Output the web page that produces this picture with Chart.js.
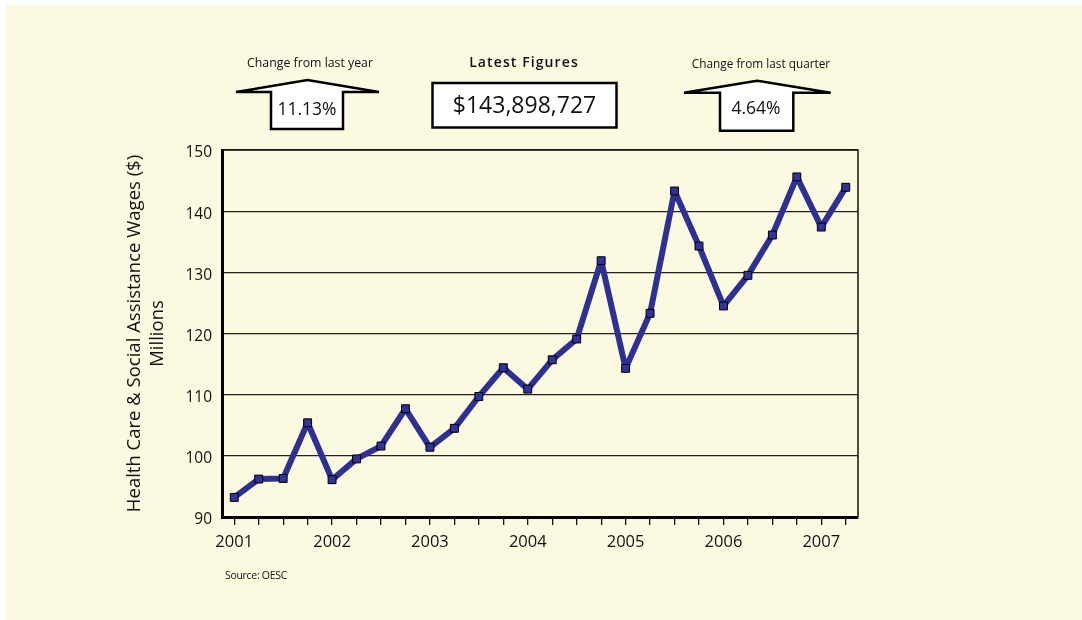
<!DOCTYPE html>
<html>
<head>
<meta charset="utf-8">
<title>Health Care & Social Assistance Wages</title>
<script src="https://cdn.jsdelivr.net/npm/chart.js@4/dist/chart.umd.min.js"></script>
<style>
  html, body { margin: 0; padding: 0; background: #ffffff; }
  #page { position: relative; width: 1082px; height: 620px; overflow: hidden; font-family: "Open Sans", sans-serif; }
  #panel { position: absolute; left: 6px; top: 5px; right: 0; bottom: 0; background: #fcf9e1; }
  #chartBox { position: absolute; left: 0; top: 0; width: 1082px; height: 620px; }
  #header { position: absolute; left: 0; top: 0; }
</style>
</head>
<body>
<div id="page">
  <div id="panel"></div>
  <div id="chartBox"><canvas id="wagesChart" width="1082" height="620"></canvas></div>
  <svg id="header" width="1082" height="620" xmlns="http://www.w3.org/2000/svg">
    <g fill="#ffffff" stroke="#000000" stroke-width="2.5" stroke-linejoin="miter">
      <polygon points="236,92 307.5,80 379,92 343,92 343,129 271,129 271,92"/>
      <rect x="432.5" y="83" width="184" height="44.5"/>
      <polygon points="684,92.7 757,80.7 830.7,92.7 793.3,92.7 793.3,130.7 720,130.7 720,92.7"/>
    </g>
    <g font-family="Open Sans, sans-serif" fill="#111111" text-anchor="middle">
      <text x="310" y="66.5" font-size="12.3">Change from last year</text>
      <text x="524" y="66.5" font-size="14" font-weight="600" letter-spacing="1.1">Latest Figures</text>
      <text x="761" y="67.5" font-size="11.8">Change from last quarter</text>
      <text x="307" y="115" font-size="17.5">11.13%</text>
      <text x="524.5" y="112.5" font-size="23">$143,898,727</text>
      <text x="756" y="114" font-size="17.5">4.64%</text>
      <text x="225" y="578.5" font-size="10.5" text-anchor="start" letter-spacing="-0.3">Source: OESC</text>
    </g>
  </svg>
</div>
<script>
// quarterly wages, millions of dollars, 2001 Q1 .. 2007 Q2
const quarters = [
  '2001 Q1', '2001 Q2', '2001 Q3', '2001 Q4',
  '2002 Q1', '2002 Q2', '2002 Q3', '2002 Q4',
  '2003 Q1', '2003 Q2', '2003 Q3', '2003 Q4',
  '2004 Q1', '2004 Q2', '2004 Q3', '2004 Q4',
  '2005 Q1', '2005 Q2', '2005 Q3', '2005 Q4',
  '2006 Q1', '2006 Q2', '2006 Q3', '2006 Q4',
  '2007 Q1', '2007 Q2'
];
const tickLabels = [
  '2001', '', '', '',
  '2002', '', '', '',
  '2003', '', '', '',
  '2004', '', '', '',
  '2005', '', '', '',
  '2006', '', '', '',
  '2007', ''
];
const wages = [
  93.2, 96.2, 96.3, 105.4,
  96.1, 99.5, 101.6, 107.7,
  101.4, 104.5, 109.7, 114.4,
  110.9, 115.7, 119.1, 131.9,
  114.3, 123.3, 143.3, 134.3,
  124.5, 129.5, 136.1, 145.6,
  137.4, 143.9
];
const yTitle = ['Health Care & Social Assistance Wages ($)', 'Millions'];

// thin frame on the top and right of the plot area
const framePlugin = {
  id: 'frame',
  beforeDatasetsDraw(chart) {
    const { ctx, chartArea: a } = chart;
    ctx.save();
    ctx.strokeStyle = '#111';
    ctx.lineWidth = 1.5;
    ctx.beginPath();
    ctx.moveTo(a.left, a.top);
    ctx.lineTo(a.right, a.top);
    ctx.lineTo(a.right, a.bottom);
    ctx.stroke();
    ctx.restore();
  }
};

new Chart(document.getElementById('wagesChart').getContext('2d'), {
  type: 'line',
  data: {
    labels: quarters,
    datasets: [{
      data: wages,
      borderColor: '#2e3192',
      borderWidth: 6,
      borderJoinStyle: 'round',
      tension: 0,
      pointStyle: 'rect',
      pointRadius: 5.6,
      pointBorderWidth: 1,
      pointBorderColor: '#000',
      pointBackgroundColor: '#31339a'
    }]
  },
  options: {
    responsive: false,
    animation: false,
    devicePixelRatio: 1,
    layout: { padding: { top: 150, right: 224, left: 0, bottom: 53 } },
    plugins: {
      legend: { display: false },
      tooltip: { enabled: false }
    },
    scales: {
      x: {
        type: 'category',
        offset: true,
        afterFit(scale) { scale.height = 50; },
        grid: {
          offset: false,
          drawOnChartArea: false,
          drawTicks: true,
          tickLength: 8,
          color: '#111',
          lineWidth: 1.3
        },
        border: { display: true, color: '#000', width: 3 },
        ticks: {
          autoSkip: false,
          maxRotation: 0,
          padding: 7,
          color: '#111',
          font: { family: 'Open Sans', size: 16.5 },
          callback: (value, index) => tickLabels[index]
        }
      },
      y: {
        min: 90,
        max: 150,
        afterFit(scale) { scale.width = 222; },
        grid: {
          drawTicks: false,
          color: '#222',
          lineWidth: 1.2
        },
        border: { display: true, color: '#000', width: 3 },
        ticks: {
          stepSize: 10,
          padding: 10,
          labelOffset: 3,
          color: '#111',
          font: { family: 'Open Sans', size: 15.5 }
        },
        title: {
          display: true,
          text: yTitle,
          color: '#111',
          padding: { top: 123.5, bottom: 0 },
          font: { family: 'Open Sans', size: 18.5, lineHeight: 1.24 }
        }
      }
    }
  },
  plugins: [framePlugin]
});
</script>
</body>
</html>
